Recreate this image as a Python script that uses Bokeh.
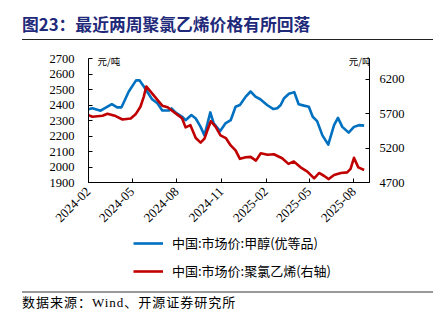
import math
import pandas as pd
from bokeh.plotting import figure
from bokeh.models import (Range1d, LinearAxis, FixedTicker, DatetimeTickFormatter,
                          Label, Legend, LegendItem, Div)
from bokeh.layouts import column
from bokeh.embed import file_html
from bokeh.resources import INLINE

# ---------------- data ----------------
title_text = "图23：最近两周聚氯乙烯价格有所回落"
source_text = "数据来源：Wind、开源证券研究所"
unit_text = "元/吨"
methanol_label = "中国:市场价:甲醇(优等品)"
pvc_label = "中国:市场价:聚氯乙烯(右轴)"

methanol_dates = [
    "2024-02-01", "2024-02-09", "2024-02-26", "2024-03-20", "2024-03-31", "2024-04-09",
    "2024-04-24", "2024-05-09", "2024-05-16", "2024-05-25", "2024-06-11", "2024-06-22",
    "2024-07-02", "2024-07-16", "2024-07-21", "2024-07-29", "2024-08-12", "2024-08-19",
    "2024-08-31", "2024-09-09", "2024-09-19", "2024-09-27", "2024-10-09", "2024-10-16",
    "2024-10-29", "2024-11-09", "2024-11-20", "2024-11-30", "2024-12-09", "2024-12-21",
    "2024-12-31", "2025-01-10", "2025-01-20", "2025-02-03", "2025-02-16", "2025-02-24",
    "2025-03-03", "2025-03-10", "2025-03-20", "2025-03-31", "2025-04-09", "2025-04-20",
    "2025-04-30", "2025-05-08", "2025-05-17", "2025-05-28", "2025-06-09", "2025-06-21",
    "2025-06-29", "2025-07-08", "2025-07-21", "2025-08-01", "2025-08-11", "2025-08-22",
]
methanol_price = [
    2372, 2379, 2363, 2405, 2385, 2385,
    2487, 2559, 2559, 2519, 2437, 2411,
    2365, 2365, 2378, 2352, 2324, 2302,
    2335, 2313, 2259, 2204, 2352, 2281,
    2231, 2281, 2302, 2389, 2400, 2454,
    2487, 2454, 2437, 2400, 2374, 2379,
    2400, 2444, 2472, 2483, 2405, 2396,
    2389, 2324, 2296, 2204, 2144, 2270,
    2317, 2259, 2222, 2259, 2270, 2267,
]

pvc_dates = [
    "2024-02-01", "2024-02-09", "2024-03-01", "2024-03-11", "2024-03-28", "2024-04-11",
    "2024-04-28", "2024-05-08", "2024-05-18", "2024-05-25", "2024-05-30", "2024-06-08",
    "2024-06-22", "2024-07-02", "2024-07-13", "2024-07-23", "2024-08-06", "2024-08-12",
    "2024-08-19", "2024-08-29", "2024-09-09", "2024-09-19", "2024-09-27", "2024-10-03",
    "2024-10-10", "2024-10-20", "2024-10-30", "2024-11-10", "2024-11-20", "2024-11-30",
    "2024-12-09", "2024-12-21", "2024-12-31", "2025-01-11", "2025-01-21", "2025-02-04",
    "2025-02-17", "2025-03-06", "2025-03-19", "2025-03-30", "2025-04-13", "2025-04-27",
    "2025-05-11", "2025-05-21", "2025-05-31", "2025-06-10", "2025-06-21", "2025-07-05",
    "2025-07-18", "2025-07-25", "2025-08-01", "2025-08-10", "2025-08-22",
]
pvc_price = [
    5678, 5654, 5668, 5698, 5664, 5615,
    5630, 5689, 5800, 5947, 6094, 6020,
    5899, 5815, 5791, 5737, 5664, 5630,
    5500, 5532, 5345, 5278, 5337, 5458,
    5590, 5507, 5385, 5345, 5238, 5165,
    5043, 5067, 5072, 5018, 5125, 5102,
    5110, 5052, 4970, 5004, 4920, 4857,
    4759, 4838, 4798, 4750, 4808, 4838,
    4847, 4897, 5058, 4920, 4882,
]

x_tick_labels = ["2024-02", "2024-05", "2024-08", "2024-11", "2025-02", "2025-05", "2025-08"]
left_ticks = [1900, 2000, 2100, 2200, 2300, 2400, 2500, 2600, 2700]
right_ticks = [4700, 5200, 5700, 6200]
left_bounds = (1900, 2700)
right_bounds = (4700, 6500)

# ---------------- styles ----------------
W = 443
BLUE = "#0070C0"
RED = "#C00000"
NAVY = "#1F2A7A"
SERIF = "Liberation Serif"
CJK = "Noto Sans CJK SC"
FL, FR = 88, 74          # frame borders left / right

# ---------------- title block (0..45) ----------------
title_div = Div(width=W, height=45, margin=0, text=(
    f'<div style="position:relative;width:{W}px;height:45px;overflow:hidden;">'
    f'<div style="position:absolute;left:22px;top:11.5px;white-space:nowrap;'
    f"font-family:'{CJK}';font-weight:bold;font-size:16.8px;line-height:24px;"
    f'color:{NAVY};">{title_text}</div>'
    '<div style="position:absolute;left:22px;top:38.7px;width:411px;height:1.3px;'
    'background:#222222;"></div></div>'))

# ---------------- main chart (45..233) ----------------
m_dates = pd.to_datetime(methanol_dates)
p_dates = pd.to_datetime(pvc_dates)

# frame: canvas y 50..182; 2700 at y=58, 1900 at y=182 (124 px)
ext = 8 / 124
p = figure(width=W, height=188, x_axis_type="datetime",
           x_range=Range1d(pd.Timestamp("2024-02-01"), pd.Timestamp("2025-09-02")),
           y_range=Range1d(1900, 2700 + 800 * ext), toolbar_location=None,
           output_backend="svg", min_border_left=FL, min_border_right=FR,
           min_border_top=5, min_border_bottom=51)
p.outline_line_color = None
p.grid.visible = False
p.extra_y_ranges = {"right": Range1d(4700, 6500 + 1800 * ext)}
p.add_layout(LinearAxis(y_range_name="right"), "right")

r_blue = p.line(m_dates, methanol_price, line_color=BLUE, line_width=2.6, line_join="round")
r_red = p.line(p_dates, pvc_price, line_color=RED, line_width=2.6, line_join="round",
               y_range_name="right")

tick_ms = [pd.Timestamp(t + "-01").value // 10**6 for t in x_tick_labels]
p.xaxis.ticker = FixedTicker(ticks=tick_ms)
fmt = "%Y-%m"
p.xaxis.formatter = DatetimeTickFormatter(milliseconds=fmt, seconds=fmt, minsec=fmt, minutes=fmt,
                                          hourmin=fmt, hours=fmt, days=fmt, months=fmt, years=fmt)
p.xaxis.major_label_orientation = math.pi / 4
p.xaxis.major_label_standoff = 7
p.xaxis.major_label_text_font_size = "13px"

p.yaxis[0].ticker = FixedTicker(ticks=left_ticks)
p.yaxis[0].bounds = left_bounds
p.yaxis[0].major_label_standoff = 14
p.yaxis[1].ticker = FixedTicker(ticks=right_ticks)
p.yaxis[1].bounds = right_bounds
p.yaxis[1].major_label_standoff = 10

for ax in p.axis:
    ax.axis_line_color = "#000000"
    ax.axis_line_width = 1
    ax.major_tick_in = 4
    ax.major_tick_out = 0
    ax.major_tick_line_color = "#000000"
    ax.minor_tick_line_color = None
    ax.major_label_text_font = SERIF
    ax.major_label_text_color = "#000000"
for ax in p.yaxis:
    ax.major_label_text_font_size = "12.5px"

# unit labels (screen units from frame bottom-left; frame bottom at canvas y=182)
p.add_layout(Label(x=97 - FL, y=182 - 60, x_units="screen", y_units="screen", text=unit_text,
                   text_font=CJK, text_font_size="9.5px", text_baseline="middle",
                   text_color="#000000"))
p.add_layout(Label(x=371 - FL, y=182 - 60, x_units="screen", y_units="screen", text=unit_text,
                   text_font=CJK, text_font_size="9.5px", text_baseline="middle",
                   text_align="right", text_color="#000000"))

# ---------------- legend block (233..285) ----------------
lg = figure(width=W, height=52, x_range=Range1d(0, 1), y_range=Range1d(0, 1),
            x_axis_type=None, y_axis_type=None, toolbar_location=None,
            output_backend="svg", min_border_left=FL, min_border_right=FR,
            min_border_top=0, min_border_bottom=0)
lg.outline_line_color = None
lg.grid.visible = False
# same series, outside this block's view: only their legend samples show
lg_blue = lg.line(m_dates, methanol_price, line_color=BLUE, line_width=2.6)
lg_red = lg.line(p_dates, pvc_price, line_color=RED, line_width=2.6)
legend = Legend(items=[LegendItem(label=methanol_label, renderers=[lg_blue]),
                       LegendItem(label=pvc_label, renderers=[lg_red])],
                location=(45, 5), orientation="vertical", padding=0, margin=0,
                spacing=9, glyph_width=30, glyph_height=18, label_height=18,
                label_standoff=9, label_text_font=CJK, label_text_font_size="13px",
                label_text_color="#000000", border_line_alpha=0, background_fill_alpha=0)
lg.add_layout(legend)

# ---------------- source block (285..324) ----------------
source_div = Div(width=W, height=39, margin=0, text=(
    f'<div style="position:relative;width:{W}px;height:39px;overflow:hidden;">'
    '<div style="position:absolute;left:22px;top:6px;width:411px;height:2px;'
    'background:#999999;"></div>'
    f'<div style="position:absolute;left:22px;top:8.5px;white-space:nowrap;'
    f"font-family:'{SERIF}','{CJK}';font-size:13px;letter-spacing:1px;"
    f'line-height:17px;color:#000000;">{source_text}</div></div>'))

layout = column(title_div, p, lg, source_div, spacing=0)
open("out.html", "w").write(file_html(layout, INLINE))
